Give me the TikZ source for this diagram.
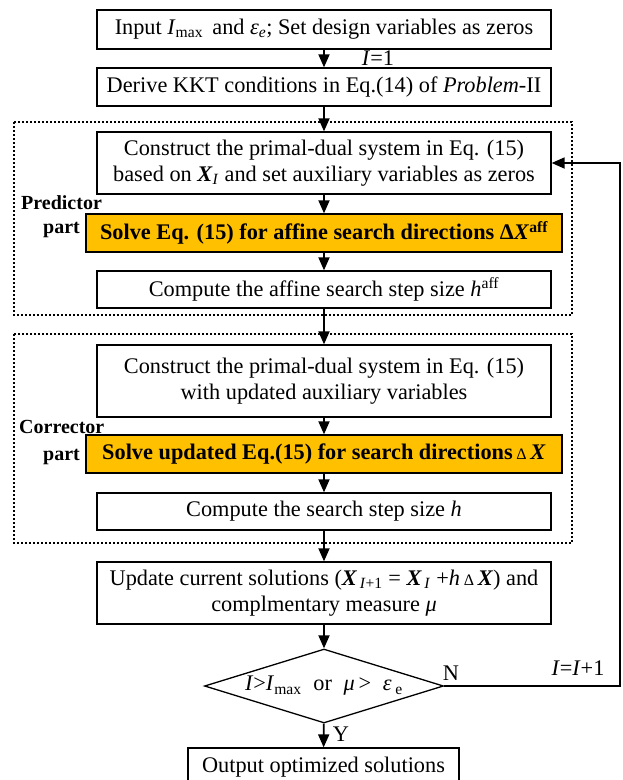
\documentclass[tikz,border=0pt]{standalone}
\usepackage{fontspec}
\setmainfont{Liberation Serif}
\usetikzlibrary{arrows.meta,shapes.geometric}
\definecolor{gold}{HTML}{FFC000}
\newcommand{\bX}{\textbf{\textit{X}}}
\begin{document}
\begin{tikzpicture}[x=1pt,y=-1pt,
  base/.style={font=\fontsize{22.3}{25.5}\selectfont},
  box/.style={base,draw,line width=1.3pt,fill=white,minimum width=454pt,inner sep=0pt,align=center},
  obox/.style={draw,line width=1.3pt,fill=gold,minimum width=476pt,minimum height=38pt,inner sep=0pt,align=center,font=\fontsize{22.3}{25.5}\selectfont\bfseries},
  arr/.style={line width=1.8pt,-{Triangle[length=13pt,width=11pt]}},
  dotbox/.style={line width=1.4pt,dash pattern=on 2pt off 2pt},
  lbl/.style={base,inner sep=0pt},
  plbl/.style={inner sep=0pt,font=\fontsize{20}{24}\selectfont\bfseries}]
\useasboundingbox (0,0) rectangle (623,780);
\draw[dotbox] (14,122) rectangle (572,315);
\draw[dotbox] (14,334) rectangle (572,543);

\node[box,minimum height=39pt] (b1) at (324,29.5) {Input \textit{I}\textsubscript{max}\, and \textit{ε}\textsubscript{\textit{e}}; Set design variables as zeros};
\node[box,minimum height=38pt] (b2) at (324,87) {Derive KKT conditions in Eq.(14) of \textit{Problem}-II};
\node[box,minimum height=62pt] (b3) at (324,163) {Construct the primal-dual system in Eq. (15)\\based on \bX\textsubscript{\textit{I}} and set auxiliary variables as zeros};
\node[obox] (o1) at (324,233) {Solve Eq. (15) for affine search directions Δ\textit{X}\textsuperscript{aff}};
\node[box,minimum height=37pt] (b5) at (324,289.5) {Compute the affine search step size \textit{h}\textsuperscript{aff}};
\node[box,minimum height=72pt] (b6) at (324,381) {Construct the primal-dual system in Eq. (15)\\with updated auxiliary variables};
\node[obox] (o2) at (324,454) {Solve updated Eq.(15) for search directions\,{\mdseries\fontsize{16}{16}\selectfont Δ}\,\textit{X}};
\node[box,minimum height=37pt] (b8) at (324,511.5) {Compute the search step size \textit{h}};
\node[box,minimum height=62pt] (b9) at (324,593) {Update current solutions (\bX\textsubscript{\,\textit{I}+1} = \bX\textsubscript{\,\textit{I}} +\textit{h}\,{\fontsize{16}{16}\selectfont Δ}\,\bX) and\\complmentary measure \textit{μ}};
\node[base,draw,line width=1.3pt,diamond,minimum width=239pt,minimum height=74pt,inner sep=0pt] (dia) at (324,686) {\makebox[0pt]{\textit{I}>\textit{I}\textsubscript{max}\; or\; \textit{μ}\,>\; \textit{ε}\,\textsubscript{e}}};
\node[box,minimum width=271pt,minimum height=38pt] (out) at (323.5,767) {Output optimized solutions};

\node[lbl] (l1) at (378,58) {\textit{I}=1};
\node[lbl] (lN) at (451,673) {N};
\node[lbl] (lY) at (341,734) {Y};
\node[lbl] (lI) at (578,668) {\textit{I}=\textit{I}+1};
\node[plbl,anchor=base west] (p1) at (21,209) {Predictor};
\node[plbl,anchor=base east] (p2) at (80,233) {part};
\node[plbl,anchor=base west] (c1) at (19,433) {Corrector};
\node[plbl,anchor=base east] (c2) at (80,460) {part};

\coordinate (rc) at (620,0);
\draw[arr] (b1) -- (b2);
\draw[arr] (b2) -- (b3);
\draw[arr] (b3) -- (o1);
\draw[arr] (o1) -- (b5);
\draw[arr] (b5) -- (b6);
\draw[arr] (b6) -- (o2);
\draw[arr] (o2) -- (b8);
\draw[arr] (b8) -- (b9);
\draw[arr] (b9) -- (dia);
\draw[arr] (dia) -- (out);
\draw[arr] (dia.east) -- (dia.east -| rc) -- (b3.east -| rc) -- (b3.east);
\end{tikzpicture}
\end{document}
